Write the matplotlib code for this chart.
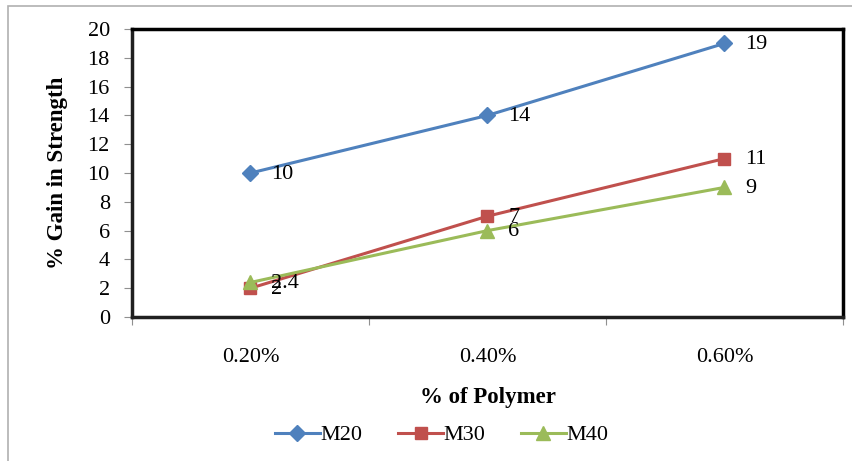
import matplotlib
matplotlib.use("Agg")
import matplotlib.pyplot as plt
from matplotlib.patches import Rectangle

categories = ["0.20%", "0.40%", "0.60%"]
m20 = [10, 14, 19]
m30 = [2, 7, 11]
m40 = [2.4, 6, 9]
m20_labels = ["10", "14", "19"]
m30_labels = ["2", "7", "11"]
m40_labels = ["2.4", "6", "9"]

plt.rcParams['font.family'] = ['Liberation Serif', 'DejaVu Serif']

W, H = 853, 461
fig = plt.figure(figsize=(W/100, H/100), dpi=100)
fig.patch.set_facecolor('white')
# outer chart border
fig.patches.append(Rectangle((8/W, -0.1), 1.5, 1 - 6/H + 0.1, transform=fig.transFigure,
                             fill=False, edgecolor='#b0b0b0', linewidth=1.2))

ax = fig.add_axes([132/W, 1 - 317/H, (843-132)/W, (317-29)/H])
x = list(range(len(categories)))
series = [(m20, m20_labels, '#4F81BD', 'D', 'M20', 8),
          (m30, m30_labels, '#C0504D', 's', 'M30', 9),
          (m40, m40_labels, '#9BBB59', '^', 'M40', 9.5)]
for vals, labs, col, mk, name, ms in series:
    ax.plot(x, vals, color=col, marker=mk, markersize=ms, linewidth=2.2, label=name,
            markeredgecolor=col)
    for xi, v, lab in zip(x, vals, labs):
        ax.annotate(lab, (xi, v), xytext=(15, -1), textcoords='offset points',
                    ha='left', va='center', fontsize=16, color='black')

ax.set_xlim(-0.5, 2.5)
ax.set_ylim(0, 20)
ax.set_yticks(range(0, 21, 2))
ax.set_xticks([-0.5, 0.5, 1.5, 2.5])
ax.set_xticklabels([])
ax.set_xticks(x, minor=True)
ax.set_xticklabels(categories, minor=True)
ax.tick_params(axis='x', which='major', direction='out', length=6, color='#909090')
ax.tick_params(axis='x', which='minor', length=0, pad=22, labelsize=16)
ax.tick_params(axis='y', direction='out', length=6, color='#909090', labelsize=16, pad=10)
for s in ['top', 'right']:
    ax.spines[s].set_linewidth(2.5)
    ax.spines[s].set_color('black')
for s in ['left', 'bottom']:
    ax.spines[s].set_linewidth(2.5)
    ax.spines[s].set_color('#202020')

ax.set_ylabel('% Gain in Strength', fontsize=16.5, fontweight='bold', labelpad=14)
ax.set_xlabel('% of Polymer', fontsize=16.5, fontweight='bold', labelpad=15)

handles, labels = ax.get_legend_handles_labels()
fig.legend(handles, labels, loc='center', bbox_to_anchor=(442/W, 1 - 435/H), ncol=3,
           frameon=False, fontsize=16, handlelength=2.0, columnspacing=1.6,
           handletextpad=0.05)

fig.savefig('out.png', dpi=100, facecolor='white')
